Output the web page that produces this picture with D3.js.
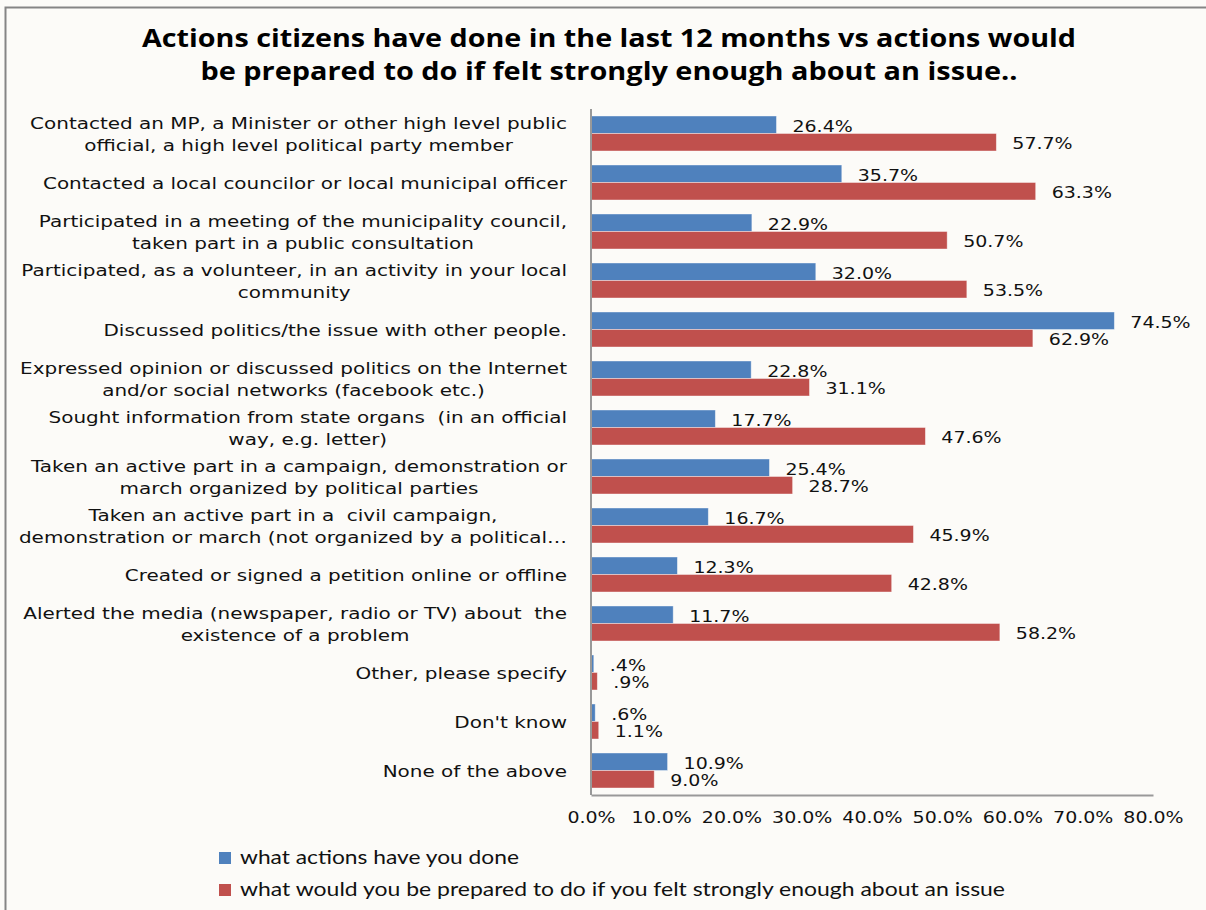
<!DOCTYPE html>
<html lang="en">
<head>
<meta charset="UTF-8">
<title>Actions citizens have done</title>
<style>
    body { margin: 0; background: #fcfbf8; }
    svg { display: block; }
    .cat text, .val, .tick text { font-family: "DejaVu Sans", Verdana, sans-serif; fill: #111; white-space: pre; }
    .title { font-family: "Open Sans", "Lato", sans-serif; font-weight: bold; fill: #000; }
    .legend text { font-family: "Lato", "Open Sans", sans-serif; fill: #111; }
</style>
</head>
<body>
<svg id="chart" width="1206" height="910"></svg>
<script src="https://cdn.jsdelivr.net/npm/d3@7"></script>
<script>
// categories (each entry is the wrapped label lines)
const categories = [
    ["Contacted an MP, a Minister or other high level public", "official, a high level political party member"],
    ["Contacted a local councilor or local municipal officer"],
    ["Participated in a meeting of the municipality council,", "taken part in a public consultation"],
    ["Participated, as a volunteer, in an activity in your local", "community"],
    ["Discussed politics/the issue with other people."],
    ["Expressed opinion or discussed politics on the Internet", "and/or social networks (facebook etc.)"],
    ["Sought information from state organs  (in an official", "way, e.g. letter)"],
    ["Taken an active part in a campaign, demonstration or", "march organized by political parties"],
    ["Taken an active part in a  civil campaign,", "demonstration or march (not organized by a political\u2026"],
    ["Created or signed a petition online or offline"],
    ["Alerted the media (newspaper, radio or TV) about  the", "existence of a problem"],
    ["Other, please specify"],
    ["Don't know"],
    ["None of the above"]
];
const done = [26.4, 35.7, 22.9, 32.0, 74.5, 22.8, 17.7, 25.4, 16.7, 12.3, 11.7, 0.4, 0.6, 10.9];
const prepared = [57.7, 63.3, 50.7, 53.5, 62.9, 31.1, 47.6, 28.7, 45.9, 42.8, 58.2, 0.9, 1.1, 9.0];
const seriesNames = ["what actions have you done",
    "what would you be prepared to do if you felt strongly enough about an issue"];
const seriesColors = ["#4f81bd", "#c0504d"];
const xTicks = [0, 10, 20, 30, 40, 50, 60, 70, 80];
const titleLines = ["Actions citizens have done in the last 12 months vs actions would",
    "be prepared to do if felt strongly enough about an issue.."];

const svg = d3.select("#chart");

// widen text a little, the original is drawn in a wider face
function stretch(sel, k) {
    sel.each(function () {
        const w = this.getComputedTextLength();
        d3.select(this).attr("textLength", w * k).attr("lengthAdjust", "spacingAndGlyphs");
    });
}

// frame
svg.append("path")
    .attr("d", "M5.5,910 V7.5 H1206")
    .attr("fill", "none")
    .attr("stroke", "#858585")
    .attr("stroke-width", 2);

// title
const titleWidths = [934, 817];
svg.append("g").selectAll("text")
    .data(titleLines)
    .enter().append("text")
    .attr("class", "title")
    .attr("x", 609)
    .attr("y", (d, i) => 47 + i * 33)
    .attr("text-anchor", "middle")
    .attr("font-size", 25)
    .attr("textLength", (d, i) => titleWidths[i])
    .attr("lengthAdjust", "spacingAndGlyphs")
    .text(d => d);

const margin = { left: 591, top: 109 };
const plotW = 562, plotH = 686;

const x = d3.scaleLinear().domain([0, 80]).range([margin.left, margin.left + plotW]);
const y = d3.scaleBand().domain(d3.range(categories.length))
    .range([margin.top, margin.top + plotH]).paddingInner(0.286).paddingOuter(0.143);
const sub = d3.scaleBand().domain([0, 1]).range([0, y.bandwidth()]);

const fmt = v => (v < 1 ? d3.format(".1f")(v).replace(/^0/, "") : d3.format(".1f")(v)) + "%";

// bars
const series = [done, prepared];
series.forEach((vals, s) => {
    svg.append("g").selectAll("rect")
        .data(vals)
        .enter().append("rect")
        .attr("x", x(0))
        .attr("y", (d, i) => y(i) + sub(s))
        .attr("width", d => x(d) - x(0))
        .attr("height", sub.bandwidth())
        .attr("fill", seriesColors[s])
        .attr("stroke", "#ffffff")
        .attr("stroke-opacity", 0.5)
        .attr("stroke-width", 0.8);

    svg.append("g").selectAll("text")
        .data(vals)
        .enter().append("text")
        .attr("class", "val")
        .attr("x", d => x(d) + 16)
        .attr("y", (d, i) => y(i) + sub(s) + sub.bandwidth() / 2 + 7)
        .attr("font-size", 16.5)
        .text(d => fmt(d))
        .call(stretch, 1.15);
});

// axes lines
svg.append("line")
    .attr("x1", x(0)).attr("x2", x(0))
    .attr("y1", margin.top).attr("y2", margin.top + plotH)
    .attr("stroke", "#999").attr("stroke-width", 2);

const xAxis = svg.append("g")
    .attr("class", "tick-axis")
    .attr("transform", `translate(0,${margin.top + plotH})`)
    .call(d3.axisBottom(x).tickValues(xTicks).tickSize(0).tickPadding(16)
        .tickFormat(d => d3.format(".1f")(d) + "%"));
xAxis.select(".domain").attr("stroke", "#999").attr("stroke-width", 2);
xAxis.selectAll("text")
    .attr("font-size", 16.5)
    .attr("font-family", "DejaVu Sans, Verdana, sans-serif")
    .attr("fill", "#111")
    .call(stretch, 1.15);

// category labels
const cat = svg.append("g").attr("class", "cat")
    .selectAll("g")
    .data(categories)
    .enter().append("g");

cat.each(function (lines, i) {
    const g = d3.select(this);
    const cy = y(i) + y.bandwidth() / 2;
    const lh = 22;
    const texts = g.selectAll("text")
        .data(lines)
        .enter().append("text")
        .attr("font-size", 16.5)
        .attr("text-anchor", "middle")
        .attr("y", (d, k) => cy + (k - (lines.length - 1) / 2) * lh + 6)
        .text(d => d)
        .call(stretch, 1.21);
    // right-align the block, centre lines within it
    let maxW = 0;
    texts.each(function () { maxW = Math.max(maxW, +this.getAttribute("textLength")); });
    texts.attr("x", 567 - maxW / 2);
});

// legend
const legend = svg.append("g").attr("class", "legend")
    .selectAll("g")
    .data(seriesNames)
    .enter().append("g")
    .attr("transform", (d, i) => `translate(219,${852 + i * 32})`);
legend.append("rect")
    .attr("width", 12).attr("height", 12)
    .attr("fill", (d, i) => seriesColors[i]);
legend.append("text")
    .attr("x", 21).attr("y", 12)
    .attr("font-size", 19)
    .attr("textLength", (d, i) => [279, 765][i])
    .attr("lengthAdjust", "spacingAndGlyphs")
    .text(d => d);
</script>
</body>
</html>
